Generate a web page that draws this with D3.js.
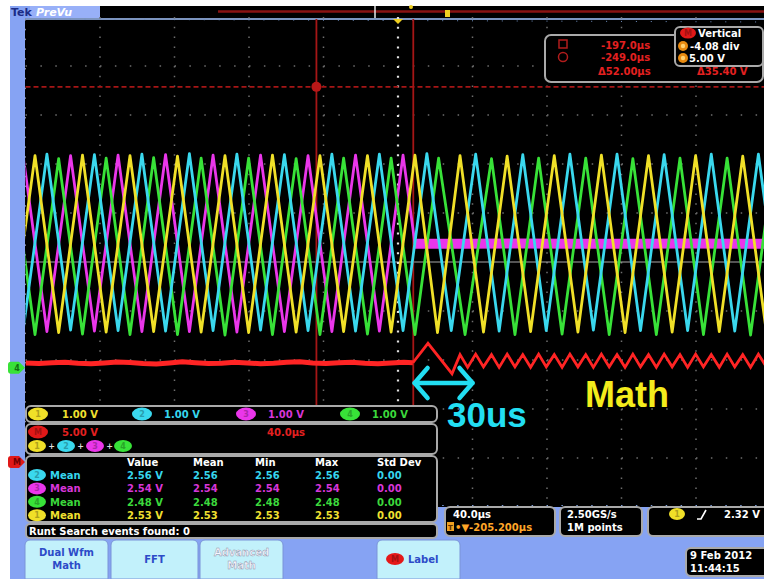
<!DOCTYPE html>
<html>
<head>
<meta charset="utf-8">
<script src="https://cdn.jsdelivr.net/npm/d3@7"></script>
<style>
  html, body { margin: 0; padding: 0; background: #ffffff; }
  svg { display: block; }
  text { font-family: "DejaVu Sans", Verdana, sans-serif; font-weight: bold; }
  text.big { font-family: "Liberation Sans", Arial, sans-serif; }
</style>
</head>
<body>
<svg id="scope" width="764" height="579"></svg>
<script>
// ---------------- acquisition settings ----------------
const timeDomain = [-405.2, -5.2];      // µs across the 10 horizontal divisions (40 µs/div)
const chVoltsPerDiv = 1.0;
const mathVoltsPerDiv = 5.0;
const chOffsetDiv = -2.16;              // channel ground marker, divisions from centre
const mathOffsetDiv = -4.08;            // math ground marker

// ---------------- channel 1 (yellow) vertices: time µs / volts ----------------
const ch1T = [-412.9, -400.1, -387.4, -374.6, -361.9, -349.1, -336.4, -323.6, -310.9, -298.1, -285.4, -272.6,
              -259.9, -247.1, -234.4, -221.6, -208.9, -196.1, -184.0, -171.9, -159.3, -146.6, -134.0, -121.3,
              -108.6, -96.0, -83.3, -70.7, -58.0, -45.4, -32.7, -20.1, -7.4, 5.2];
const ch1V = [0.73, 4.33, 0.72, 4.34, 0.73, 4.33, 0.74, 4.32, 0.73, 4.33, 0.72, 4.34, 0.73, 4.33, 0.74, 4.33,
              0.73, 4.34, 0.72, 4.33, 0.73, 4.32, 0.74, 4.33, 0.73, 4.34, 0.72, 4.33, 0.73, 4.33, 0.74, 4.32,
              0.73, 4.33];

// ---------------- channel 2 (cyan) ----------------
const ch2T = [-406.5, -393.7, -381.0, -368.2, -355.5, -342.7, -330.0, -317.2, -304.5, -291.7, -279.0, -266.2,
              -253.5, -240.7, -228.0, -215.2, -202.5, -189.7, -176.6, -163.5, -150.9, -138.2, -125.6, -112.9,
              -100.3, -87.6, -75.0, -62.3, -49.7, -37.0, -24.4, -11.7, 1.0];
const ch2V = [0.76, 4.36, 0.77, 4.35, 0.76, 4.36, 0.75, 4.37, 0.76, 4.36, 0.77, 4.35, 0.76, 4.36, 0.75, 4.36,
              0.76, 4.37, 0.76, 4.36, 0.75, 4.35, 0.76, 4.36, 0.77, 4.36, 0.76, 4.35, 0.76, 4.36, 0.75, 4.36,
              0.76];

// ---------------- channel 3 (magenta): stops switching and sits at its mid level ----------------
const ch3T = [-406.5, -393.7, -381.0, -368.2, -355.5, -342.7, -330.0, -317.2, -304.5, -291.7, -279.0, -266.2,
              -253.5, -240.7, -228.0, -215.2, -202.5, -196.1, -170.0, -140.0, -110.0, -80.0, -50.0, -20.0, 5.0];
const ch3V = [4.34, 0.74, 4.33, 0.75, 4.34, 0.74, 4.35, 0.74, 4.34, 0.73, 4.34, 0.74, 4.33, 0.74, 4.34, 0.75,
              4.34, 2.53, 2.53, 2.54, 2.53, 2.53, 2.54, 2.53, 2.53];
const ch3StopT = -196.1;

// ---------------- channel 4 (green) ----------------
const ch4T = [-412.9, -400.1, -387.4, -374.6, -361.9, -349.1, -336.4, -323.6, -310.9, -298.1, -285.4, -272.6,
              -259.9, -247.1, -234.4, -221.6, -208.9, -196.1, -183.4, -169.2, -155.0, -142.4, -129.7, -117.1,
              -104.4, -91.8, -79.1, -66.5, -53.8, -41.2, -28.5, -15.9, -3.2, 9.5];
const ch4V = [4.28, 0.68, 4.27, 0.69, 4.28, 0.68, 4.29, 0.68, 4.28, 0.67, 4.28, 0.68, 4.27, 0.68, 4.28, 0.69,
              4.28, 0.68, 4.28, 0.68, 4.27, 0.68, 4.28, 0.69, 4.28, 0.68, 4.27, 0.68, 4.28, 0.68, 4.28, 0.67,
              4.28, 0.68];

// ---------------- math trace 1+2+3+4 ----------------
const mathT = [-405.2, -398, -391, -384, -377, -370, -363, -356, -349, -342, -335, -328, -321, -314, -307,
               -300, -293, -286, -279, -272, -265, -258, -251, -244, -237, -230, -223, -216, -209, -202, -197.2,
               -189.1, -176.2,
               -171.9, -167.8, -163.5, -159.3, -155.0, -150.9, -146.6, -142.4, -138.2, -134.0, -129.7, -125.6,
               -121.3, -117.1, -112.9, -108.6, -104.4, -100.3, -96.0, -91.8, -87.6, -83.3, -79.1, -75.0,
               -70.7, -66.5, -62.3, -58.0, -53.8, -49.7, -45.4, -41.2, -37.0, -32.7, -28.5, -24.4,
               -20.1, -15.9, -11.7, -7.4, -3.2, 1.0];
const mathV = [10.10, 10.05, 10.12, 10.18, 10.08, 10.02, 10.10, 10.20, 10.15, 10.05, 10.00, 10.10, 10.22, 10.12,
               10.04, 10.08, 10.18, 10.10, 10.02, 10.06, 10.16, 10.22, 10.10, 10.04, 10.12, 10.18, 10.08, 10.02,
               10.10, 10.16, 10.12,
               12.10, 9.00,
               10.95, 9.65, 11.00, 9.70, 10.95, 9.65, 11.00, 9.70, 10.95, 9.65, 11.00, 9.70,
               10.95, 9.65, 11.00, 9.70, 10.95, 9.65, 11.00, 9.70, 10.95, 9.65, 11.00, 9.70,
               10.95, 9.65, 11.00, 9.70, 10.95, 9.65, 11.00, 9.70, 10.95, 9.65, 11.00, 9.70,
               10.95, 9.65, 11.00, 9.70, 10.95, 9.65];
const mathFlatEndT = -197.2;

// ---------------- cursors ----------------
const cursorT = [-197.0, -249.0];        // a, b
const cursorMathV = 38.27;               // horizontal cursor level on math

// ---------------- readout text ----------------
const chNums = ['1', '2', '3', '4'];
const chScaleText = ['1.00 V', '1.00 V', '1.00 V', '1.00 V'];
const measHeaders = ['Value', 'Mean', 'Min', 'Max', 'Std Dev'];
const measCh = [2, 3, 4, 1];
const measValue = ['2.56 V', '2.54 V', '2.48 V', '2.53 V'];
const measMean = ['2.56', '2.54', '2.48', '2.53'];
const measMin = ['2.56', '2.54', '2.48', '2.53'];
const measMax = ['2.56', '2.54', '2.48', '2.53'];
const measStd = ['0.00', '0.00', '0.00', '0.00'];
const cursorReadout = ['-197.0µs', '-249.0µs', 'Δ52.00µs', 'Δ35.40 V'];
const verticalReadout = ['Vertical', '-4.08 div', '5.00 V'];
const buttonLabels = [['Dual Wfm', 'Math'], ['FFT'], ['Advanced', 'Math'], ['Label']];

// ---------------- colours ----------------
const chColor = { 1: '#f0e028', 2: '#3ad8ee', 3: '#ea36ea', 4: '#38e238' };
const chText  = { 1: '#f0e030', 2: '#36d6ee', 3: '#d836d8', 4: '#3cd83c' };
const mathColor = '#ff2424';
const blue = '#86a3f3';
const boxStroke = '#a9a9a9';

// ---------------- scales ----------------
const gx0 = 25.5, gx1 = 770.5, gy0 = 17, gy1 = 507;
const x = d3.scaleLinear().domain(timeDomain).range([gx0, gx1]);
const xDiv = d3.scaleLinear().domain([-5, 5]).range([gx0, gx1]);
const yDiv = d3.scaleLinear().domain([-5, 5]).range([gy1, gy0]);
const yCh = d3.scaleLinear().domain([0, chVoltsPerDiv])
  .range([yDiv(chOffsetDiv), yDiv(chOffsetDiv + 1)]);
const yMath = d3.scaleLinear().domain([0, mathVoltsPerDiv])
  .range([yDiv(mathOffsetDiv), yDiv(mathOffsetDiv + 1)]);

const svg = d3.select('#scope');

// ---------------- background ----------------
svg.append('rect').attr('x', 10).attr('y', 6).attr('width', 754).attr('height', 573).attr('fill', blue);
svg.append('rect').attr('x', 30).attr('y', 6).attr('width', 70).attr('height', 12).attr('fill', '#98b0f8');
svg.append('text').attr('x', 11).attr('y', 16).attr('font-size', 11).attr('fill', '#1c2c86').text('Tek');
svg.append('text').attr('x', 36).attr('y', 16).attr('font-size', 11).attr('font-style', 'italic')
  .attr('fill', '#ffffff').text('PreVu');

// record view bar
svg.append('rect').attr('x', 100).attr('y', 6).attr('width', 664).attr('height', 12).attr('fill', '#000');
svg.append('line').attr('x1', 218).attr('x2', 764).attr('y1', 11.5).attr('y2', 11.5)
  .attr('stroke', '#8a1212').attr('stroke-width', 2.5);
svg.append('line').attr('x1', 375).attr('x2', 375).attr('y1', 6).attr('y2', 18)
  .attr('stroke', '#e8e8e8').attr('stroke-width', 1.5);
svg.append('rect').attr('x', 445).attr('y', 10).attr('width', 5).attr('height', 7).attr('fill', '#f0d020');
svg.append('circle').attr('cx', 411).attr('cy', 7).attr('r', 2).attr('fill', '#f0d020');

// graticule area
svg.append('rect').attr('x', 25).attr('y', 18).attr('width', 739).attr('height', 489).attr('fill', '#000');
svg.append('line').attr('x1', 25).attr('x2', 764).attr('y1', 19).attr('y2', 19)
  .attr('stroke', '#a6c6ff').attr('stroke-width', 1.5);
svg.append('line').attr('x1', 25).attr('x2', 764).attr('y1', 19).attr('y2', 22)
  .attr('stroke', '#7090c0').attr('stroke-width', 1).attr('stroke-dasharray', '1 13.9');
svg.append('line').attr('x1', 25.5).attr('x2', 25.5).attr('y1', 19).attr('y2', 506)
  .attr('stroke', '#8a8a9a').attr('stroke-width', 1).attr('stroke-dasharray', '1.5 8.3');
svg.append('line').attr('x1', 25).attr('x2', 764).attr('y1', 505.5).attr('y2', 505.5)
  .attr('stroke', '#7e9ed8').attr('stroke-width', 1).attr('stroke-dasharray', '1.5 13.4');

// dotted division lines
const grid = svg.append('g');
d3.range(-4, 5).filter(k => k !== 0).forEach(k => {
  grid.append('line').attr('x1', xDiv(k)).attr('x2', xDiv(k)).attr('y1', gy0).attr('y2', gy1)
    .attr('stroke', '#6e6e6e').attr('stroke-width', 1.5).attr('stroke-dasharray', '1.5 8.3');
  grid.append('line').attr('x1', gx0).attr('x2', 764).attr('y1', yDiv(k)).attr('y2', yDiv(k))
    .attr('stroke', '#6e6e6e').attr('stroke-width', 1.5).attr('stroke-dasharray', '1.5 13.4');
});
// centre cross
grid.append('line').attr('x1', gx0).attr('x2', 764).attr('y1', yDiv(0)).attr('y2', yDiv(0))
  .attr('stroke', '#a8a8a8').attr('stroke-width', 1.2);
grid.append('line').attr('x1', xDiv(0)).attr('x2', xDiv(0)).attr('y1', gy0).attr('y2', 404)
  .attr('stroke', '#e0e0e0').attr('stroke-width', 2.2).attr('stroke-dasharray', '2 7.8');

// ---------------- cursors ----------------
const cur = svg.append('g');
cursorT.forEach(t => {
  cur.append('line').attr('x1', x(t)).attr('x2', x(t)).attr('y1', 19).attr('y2', 506)
    .attr('stroke', '#a51616').attr('stroke-width', 1.8);
});
cur.append('line').attr('x1', gx0).attr('x2', 764).attr('y1', yMath(cursorMathV)).attr('y2', yMath(cursorMathV))
  .attr('stroke', '#a51616').attr('stroke-width', 1.6).attr('stroke-dasharray', '5 3');
cur.append('circle').attr('cx', x(cursorT[1])).attr('cy', yMath(cursorMathV)).attr('r', 5).attr('fill', '#b81818');

// expansion point marker
svg.append('path').attr('d', `M${xDiv(0) - 5},19 L${xDiv(0) + 5},19 L${xDiv(0)},24 Z`).attr('fill', '#f0d020');

// ---------------- waveforms ----------------
svg.append('clipPath').attr('id', 'plotClip').append('rect')
  .attr('x', gx0).attr('y', gy0).attr('width', 764 - gx0).attr('height', gy1 - gy0);
const wave = svg.append('g').attr('clip-path', 'url(#plotClip)');
const chLine = d3.line().x(d => x(d[0])).y(d => yCh(d[1]));
const mathLine = d3.line().x(d => x(d[0])).y(d => yMath(d[1]));
const zipPts = (T, V) => T.map((t, i) => [t, V[i]]);

const ch3Pts = zipPts(ch3T, ch3V);
wave.append('path').datum(ch3Pts.filter(d => d[0] >= ch3StopT)).attr('d', chLine)
  .attr('fill', 'none').attr('stroke', chColor[3]).attr('stroke-width', 10);
wave.append('path').datum(ch3Pts.filter(d => d[0] <= ch3StopT)).attr('d', chLine)
  .attr('fill', 'none').attr('stroke', chColor[3]).attr('stroke-width', 2.8).attr('stroke-linejoin', 'round');
[[ch4T, ch4V, 4], [ch2T, ch2V, 2], [ch1T, ch1V, 1]].forEach(([T, V, c]) => {
  wave.append('path').datum(zipPts(T, V)).attr('d', chLine)
    .attr('fill', 'none').attr('stroke', chColor[c]).attr('stroke-width', 2.8).attr('stroke-linejoin', 'round');
});
const mathPts = zipPts(mathT, mathV);
wave.append('path').datum(mathPts.filter(d => d[0] <= mathFlatEndT)).attr('d', mathLine)
  .attr('fill', 'none').attr('stroke', mathColor).attr('stroke-width', 5).attr('stroke-linejoin', 'round');
wave.append('path').datum(mathPts.filter(d => d[0] >= mathFlatEndT)).attr('d', mathLine)
  .attr('fill', 'none').attr('stroke', mathColor).attr('stroke-width', 2.8).attr('stroke-linejoin', 'miter');

// ---------------- annotation ----------------
const ann = svg.append('g').attr('stroke', '#22def2').attr('stroke-width', 4.5)
  .attr('fill', 'none').attr('stroke-linecap', 'round').attr('stroke-linejoin', 'round');
ann.append('line').attr('x1', x(-196.3)).attr('x2', x(-165.2)).attr('y1', 383).attr('y2', 383);
ann.append('path').attr('d', `M${x(-196.3) + 13},368 L${x(-196.3)},383 L${x(-196.3) + 13},398`);
ann.append('path').attr('d', `M${x(-165.2) - 13},368 L${x(-165.2)},383 L${x(-165.2) - 13},398`);
svg.append('text').attr('class', 'big').attr('x', 447).attr('y', 427)
  .attr('font-size', 35).attr('fill', '#22def2').text('30us');
svg.append('text').attr('class', 'big').attr('x', 585).attr('y', 407)
  .attr('font-size', 36).attr('fill', '#f4ec1c').text('Math');

// ---------------- helpers ----------------
function box(x0, y0, w, h, r = 5) {
  svg.append('rect').attr('x', x0).attr('y', y0).attr('width', w).attr('height', h).attr('rx', r)
    .attr('fill', '#000').attr('stroke', boxStroke).attr('stroke-width', 2);
}
function badge(cx, cy, color, label, rx = 10, ry = 6.5) {
  svg.append('ellipse').attr('cx', cx).attr('cy', cy).attr('rx', rx).attr('ry', ry).attr('fill', color);
  svg.append('text').attr('x', cx).attr('y', cy + 3).attr('text-anchor', 'middle').attr('font-size', 8)
    .attr('fill', d3.color(color).darker(0.9)).text(label);
}
function label(x0, y0, str, color, size = 10, anchor = 'start') {
  return svg.append('text').attr('x', x0).attr('y', y0).attr('font-size', size)
    .attr('text-anchor', anchor).attr('fill', color).text(str);
}

// ---------------- left edge markers ----------------
svg.append('path').attr('d', `M11,${yCh(0) - 6} h8 l6,6 l-6,6 h-8 a3,3 0 0 1 -3,-3 v-6 a3,3 0 0 1 3,-3 Z`)
  .attr('fill', chColor[4]);
label(17, yCh(0) + 3, '4', '#107010', 8, 'middle');
svg.append('path').attr('d', `M11,${yMath(0) - 6} h8 l6,6 l-6,6 h-8 a3,3 0 0 1 -3,-3 v-6 a3,3 0 0 1 3,-3 Z`)
  .attr('fill', '#e01818');
label(17, yMath(0) + 3, 'M', '#700000', 8, 'middle');

// ---------------- cursor / vertical readouts ----------------
box(545, 35, 218, 47, 6);
svg.append('rect').attr('x', 559).attr('y', 40).attr('width', 8).attr('height', 8)
  .attr('fill', 'none').attr('stroke', '#b01c1c').attr('stroke-width', 1.5);
svg.append('circle').attr('cx', 563).attr('cy', 57).attr('r', 4.5)
  .attr('fill', 'none').attr('stroke', '#b01c1c').attr('stroke-width', 1.5);
label(601, 49, cursorReadout[0], '#e42020');
label(601, 61, cursorReadout[1], '#e42020');
label(598, 75, cursorReadout[2], '#e42020');
label(697, 75, cursorReadout[3], '#e42020');

box(675, 27, 88, 39, 5);
badge(688, 33, '#e01818', 'M', 8, 5.5);
label(698, 37, verticalReadout[0], '#ffffff');
svg.append('circle').attr('cx', 683).attr('cy', 46).attr('r', 5).attr('fill', '#e88a10');
svg.append('circle').attr('cx', 683).attr('cy', 46).attr('r', 2.2).attr('fill', '#ffd070');
label(690, 50, verticalReadout[1], '#ffffff');
svg.append('circle').attr('cx', 683).attr('cy', 58).attr('r', 5).attr('fill', '#e88a10');
svg.append('circle').attr('cx', 683).attr('cy', 58).attr('r', 2.2).attr('fill', '#ffd070');
label(689, 62, verticalReadout[2], '#ffffff');

// ---------------- channel / math readouts ----------------
box(26, 406, 411, 16, 5);
const badgeX = [38, 142, 246, 350];
const scaleX = [62, 164, 268, 372];
chNums.forEach((n, i) => {
  badge(badgeX[i], 414, chColor[+n], n);
  label(scaleX[i], 418, chScaleText[i], chText[+n]);
});

box(26, 424, 411, 30, 5);
badge(38, 432, '#e01818', 'M');
label(62, 436, '5.00 V', '#e42020');
label(267, 436, '40.0µs', '#e42020');
const sumX = [37, 66, 95, 123];
chNums.forEach((n, i) => {
  badge(sumX[i], 446, chColor[+n], n, 9, 6);
  if (i < 3) label(sumX[i] + 14.5, 449, '+', '#dddddd', 8, 'middle');
});

box(26, 456, 411, 66, 5);
const colX = [127, 193, 255, 315, 377];
measHeaders.forEach((h, i) => label(colX[i], 466, h, '#ffffff'));
measCh.forEach((c, r) => {
  const yy = 475 + r * 13.4;
  badge(37, yy, chColor[c], String(c), 9, 6);
  label(50, yy + 4, 'Mean', chText[c]);
  [measValue[r], measMean[r], measMin[r], measMax[r], measStd[r]].forEach((v, i) => label(colX[i], yy + 4, v, chText[c]));
});

box(26, 524, 411, 14, 4);
label(29, 535, 'Runt Search events found: 0', '#ffffff');

// ---------------- timebase / acquisition / trigger ----------------
box(445, 507, 110, 29, 5);
label(453, 518, '40.0µs', '#ffffff');
svg.append('rect').attr('x', 447).attr('y', 522).attr('width', 7).attr('height', 9).attr('fill', '#f0a020');
label(450.5, 530, 'T', '#603000', 7, 'middle');
label(455, 531, '•▼-205.200µs', '#ffa628');

box(560, 507, 82, 29, 5);
label(567, 518, '2.50GS/s', '#ffffff');
label(567, 531, '1M points', '#ffffff');

box(648, 507, 125, 29, 5);
badge(677, 514, chColor[1], '1', 8, 6);
svg.append('path').attr('d', 'M697,519 L701,519 L706,510').attr('fill', 'none')
  .attr('stroke', '#ffffff').attr('stroke-width', 1.6);
label(724, 518, '2.32 V', '#ffffff');

box(686, 548, 85, 28, 5);
label(690, 559, '9 Feb 2012', '#ffffff');
label(690, 572, '11:44:15', '#ffffff');

// ---------------- menu buttons ----------------
const btnX = [[25, 108], [111, 198], [200, 283], [377, 460]];
btnX.forEach(([a, b], i) => {
  svg.append('path').attr('d', `M${a},579 V545 a5,5 0 0 1 5,-5 H${b - 5} a5,5 0 0 1 5,5 V579 Z`)
    .attr('fill', '#c2f1fb').attr('stroke', '#7a94d8').attr('stroke-width', 1);
  const lines = buttonLabels[i];
  const cx = (a + b) / 2;
  if (i === 3) {
    badge(a + 18, 559, '#e41818', 'M', 9, 6);
    label(a + 31, 563, lines[0], '#2d4bc8');
  } else {
    lines.forEach((s, j) => {
      const t = label(cx, lines.length === 1 ? 563 : 556 + j * 13, s, i === 2 ? '#f6f6ff' : '#2d4bc8', 10, 'middle')
        .attr('font-weight', i === 2 ? 'normal' : 'bold');
      if (i === 2) t.attr('stroke', '#8a8aa0').attr('stroke-width', 0.4);
    });
  }
});
</script>
</body>
</html>
